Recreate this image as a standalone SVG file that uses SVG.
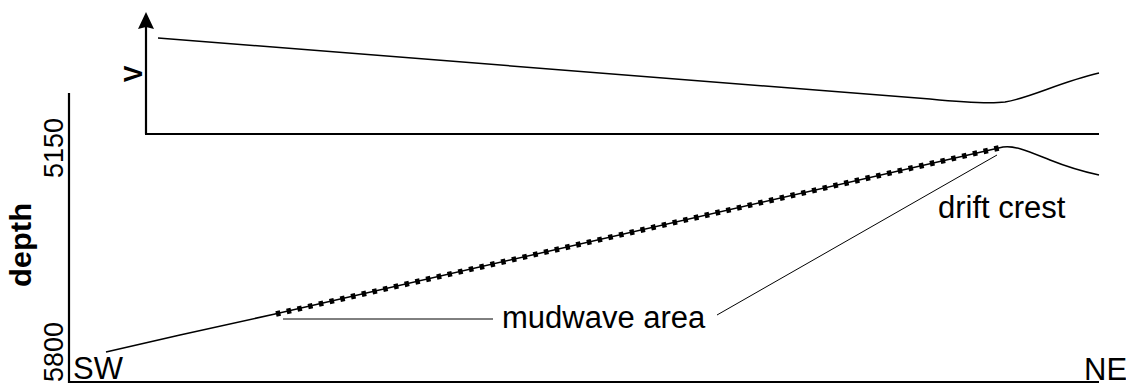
<svg xmlns="http://www.w3.org/2000/svg" width="1126" height="384" viewBox="0 0 1126 384">
<style>
.ax{stroke:#000;stroke-width:2.2;fill:none}
.ln{stroke:#000;stroke-width:1.5;fill:none}
.thin{stroke:#000;stroke-width:1;fill:none}
.dots{stroke:#000;stroke-width:5.5;stroke-dasharray:4.5 6.5;fill:none}
.t{font-family:"Liberation Sans",Arial,sans-serif;fill:#000}
.b{font-weight:bold}
</style>
<rect width="1126" height="384" fill="#fff"/>
<g id="axes">
<line class="ax" x1="146" y1="26" x2="146" y2="134"/>
<line class="ax" x1="145" y1="134" x2="1099" y2="134"/>
<polygon points="146,12 138,29 146,27 154,29" fill="#000"/>
<line class="ax" x1="69" y1="93" x2="69" y2="383"/>
<line class="ax" x1="68" y1="382" x2="1099" y2="382"/>
</g>
<g id="velocity-curve">
<path class="ln" d="M158,38 L930,99 C960,102 990,104 1005,102 C1030,98 1060,82 1099,73"/>
</g>
<g id="depth-profile">
<path class="ln" d="M106,352 L180,335 L275,314 L1003,147 C1015,145 1030,152 1050,160 S1085,172 1099,175"/>
<line class="dots" x1="276" y1="314" x2="1003" y2="147"/>
</g>
<g id="connectors">
<line class="thin" x1="283" y1="319" x2="493" y2="319"/>
<line class="thin" x1="717" y1="315" x2="997" y2="155"/>
</g>
<g id="labels">
<text class="t b" font-size="25" text-anchor="middle" transform="translate(142,74) rotate(-90)">V</text>
<text class="t" font-size="27" text-anchor="middle" transform="translate(63,148) rotate(-90)">5150</text>
<text class="t" font-size="27" text-anchor="middle" transform="translate(63,352) rotate(-90)">5800</text>
<text class="t b" font-size="29" text-anchor="middle" textLength="84" lengthAdjust="spacingAndGlyphs" transform="translate(31,245) rotate(-90)">depth</text>
<text class="t" font-size="31" x="73" y="379">SW</text>
<text class="t" font-size="31" x="1084" y="380">NE</text>
<text class="t" font-size="31" x="502" y="328">mudwave area</text>
<text class="t" font-size="31" x="938" y="218">drift crest</text>
</g>
</svg>
